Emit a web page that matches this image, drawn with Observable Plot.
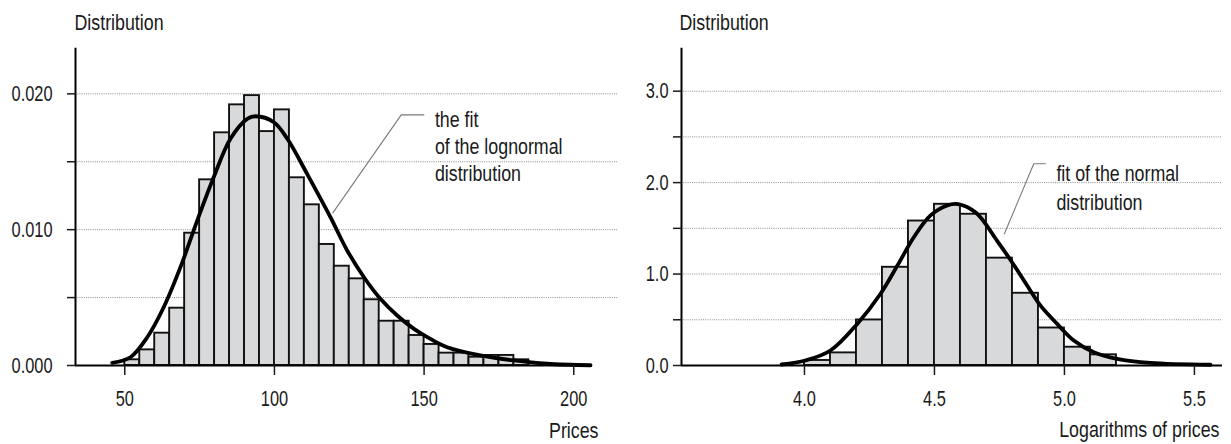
<!DOCTYPE html>
<html>
<head>
<meta charset="utf-8">
<script src="https://cdn.jsdelivr.net/npm/d3@7"></script>
<script src="https://cdn.jsdelivr.net/npm/@observablehq/plot@0.6"></script>
<style>
  html, body { margin: 0; padding: 0; background: #fff; }
  #charts { display: flex; width: 1231px; height: 444px; }
</style>
</head>
<body>
<div id="charts"></div>
<script>
// Histogram of prices: left edge of each 5-unit bin and its density
const priceBinStart = [50, 55, 60, 65, 70, 75, 80, 85, 90, 95, 100, 105, 110, 115, 120,
                       125, 130, 135, 140, 145, 150, 155, 160, 165, 170, 175, 180];
const priceDensity = [0.00042, 0.00115, 0.00238, 0.00422, 0.00974, 0.01367, 0.01713, 0.01919,
                      0.01987, 0.01722, 0.01882, 0.01382, 0.01183, 0.00891, 0.00731, 0.00638,
                      0.00484, 0.00326, 0.00326, 0.00221, 0.00155, 0.00091, 0.00091, 0.00061,
                      0.00074, 0.00074, 0.00042];
const priceBinWidth = 5;

// Lognormal fit curve sampled along the price axis
const lognormalX = [45.8, 51.9, 57.5, 63.0, 68.6, 74.2, 79.7, 85.3, 90.9, 93.7, 99.8, 104.3,
                    110.9, 118.7, 124.3, 129.9, 135.4, 141.0, 146.6, 152.1, 157.7, 168.8,
                    180.0, 191.1, 205.6];
const lognormalY = [0.0002, 0.00061, 0.00208, 0.00429, 0.00724, 0.01067, 0.01386, 0.01669,
                    0.01816, 0.01835, 0.01791, 0.01669, 0.01411, 0.01092, 0.00847, 0.0065,
                    0.00491, 0.00368, 0.0027, 0.00196, 0.00135, 0.00074, 0.00037, 0.00013,
                    0.00002];

// Histogram of log prices: left edge of each 0.1 bin and its density
const logBinStart = [4.0, 4.1, 4.2, 4.3, 4.4, 4.5, 4.6, 4.7, 4.8, 4.9, 5.0, 5.1];
const logDensity = [0.055, 0.138, 0.498, 1.074, 1.58, 1.763, 1.654, 1.174, 0.79, 0.41, 0.2, 0.117];
const logBinWidth = 0.1;

// Normal fit curve sampled along the log-price axis
const normalX = [3.912, 4.004, 4.1, 4.203, 4.292, 4.357, 4.42, 4.485, 4.549, 4.59, 4.66, 4.741,
                 4.799, 4.857, 4.908, 4.972, 5.036, 5.113, 5.203, 5.331, 5.562];
const normalY = [0.011, 0.055, 0.164, 0.455, 0.782, 1.09, 1.4, 1.641, 1.75, 1.765, 1.67, 1.363,
                 1.127, 0.872, 0.654, 0.455, 0.273, 0.145, 0.073, 0.029, 0.008];

// Axis ticks and labels
const priceTicks = [50, 100, 150, 200];
const priceDensityTicks = [0, 0.005, 0.01, 0.015, 0.02];
const priceDensityLabels = ["0.000", "", "0.010", "", "0.020"];
const logTicks = [4.0, 4.5, 5.0, 5.5];
const logDensityTicks = [0, 0.5, 1, 1.5, 2, 2.5, 3];
const logDensityLabels = ["0.0", "", "1.0", "", "2.0", "", "3.0"];

const FONT = '"Liberation Sans", Arial, sans-serif';
const FS = 22;
const INK = "#1a1a1a";
const BAR_FILL = "#d8d9db";
const GRID = "#8c8c8c";

function histogramPanel(cfg) {
  const bins = cfg.starts.map((s, i) => ({x1: s, x2: +(s + cfg.binWidth).toFixed(4), y: cfg.values[i]}));
  const curve = cfg.curveX.map((x, i) => ({x, y: cfg.curveY[i]}));
  const labelOf = new Map(cfg.yTicks.map((t, i) => [t, cfg.yLabels[i]]));
  const grid = cfg.yTicks.filter(t => t > 0);

  return Plot.plot({
    width: cfg.width,
    height: 444,
    marginLeft: cfg.marginLeft,
    marginRight: cfg.marginRight,
    marginTop: 47.7,
    marginBottom: 79,
    style: {fontFamily: FONT, fontSize: FS + "px", color: INK, background: "transparent", overflow: "visible"},
    x: {domain: cfg.xDomain},
    y: {domain: cfg.yDomain},
    marks: [
      // dotted horizontal gridlines
      Plot.ruleY(grid, {x1: cfg.xDomain[0], x2: cfg.gridEnd, stroke: GRID, strokeWidth: 1, strokeDasharray: "1,1.2"}),
      // histogram bars
      Plot.rectY(bins, {x1: "x1", x2: "x2", y: "y", fill: BAR_FILL, stroke: "#111", strokeWidth: 1.9}),
      // fitted density curve
      Plot.line(curve, {x: "x", y: "y", curve: "catmull-rom", stroke: "#000", strokeWidth: 3.8, strokeLinecap: "round"}),
      // axis lines
      Plot.ruleY([0], {x1: cfg.xDomain[0], x2: cfg.xDomain[1], stroke: "#000", strokeWidth: 2}),
      Plot.ruleX([cfg.xDomain[0]], {y1: 0, y2: cfg.yDomain[1], stroke: "#000", strokeWidth: 2}),
      Plot.axisX({ticks: cfg.xTicks, tickSize: 10, tickPadding: 15, tickFormat: d => d3.format(cfg.xFormat)(d),
                  label: null, strokeWidth: 1.5, fill: INK}),
      Plot.axisY({ticks: cfg.yTicks, tickSize: 8, tickPadding: cfg.yPad, tickFormat: d => labelOf.get(d),
                  label: null, strokeWidth: 1.5, fill: INK}),
      // leader line and annotation
      Plot.line(cfg.leader, {stroke: "#7a7a7a", strokeWidth: 1.1}),
      Plot.text([cfg.note], {x: cfg.noteX, y: cfg.noteY, text: d => d, textAnchor: "start", lineAnchor: "top",
                             lineHeight: cfg.noteLineHeight, fontSize: FS, fill: INK}),
      // axis titles
      Plot.text(["Distribution"], {frameAnchor: "top-left", textAnchor: "start", lineAnchor: "top",
                                   dx: cfg.titleDx, dy: -34, fontSize: FS, fill: INK}),
      Plot.text([cfg.xTitle], {frameAnchor: "bottom-right", textAnchor: "end", lineAnchor: "top",
                               dx: cfg.xTitleDx, dy: cfg.xTitleDy, fontSize: FS, fill: INK})
    ]
  });
}

const left = histogramPanel({
  width: 620, marginLeft: 75, marginRight: 28,
  xDomain: [33.53, 206.26], yDomain: [0, 0.02336], gridEnd: 214.9,
  starts: priceBinStart, values: priceDensity, binWidth: priceBinWidth,
  curveX: lognormalX, curveY: lognormalY,
  xTicks: priceTicks, xFormat: "d",
  yTicks: priceDensityTicks, yLabels: priceDensityLabels, yPad: 15,
  leader: [[119.5, 0.01124], [142.35, 0.01845], [149.9, 0.01845]],
  note: "the fit\nof the lognormal\ndistribution", noteX: 153.6, noteY: 0.018984, noteLineHeight: 27 / FS,
  titleDx: -1, xTitle: "Prices", xTitleDx: 6, xTitleDy: 57
});

const right = histogramPanel({
  width: 611, marginLeft: 61, marginRight: 9,
  xDomain: [3.527, 5.608], yDomain: [0, 3.47], gridEnd: 5.608,
  starts: logBinStart, values: logDensity, binWidth: logBinWidth,
  curveX: normalX, curveY: normalY,
  xTicks: logTicks, xFormat: ".1f",
  yTicks: logDensityTicks, yLabels: logDensityLabels, yPad: 5,
  leader: [[4.769, 1.44], [4.882, 2.206], [4.927, 2.206]],
  note: "fit of the normal\ndistribution", noteX: 4.969, noteY: 2.2345, noteLineHeight: 28.3 / FS,
  titleDx: -2, xTitle: "Logarithms of prices", xTitleDx: -3, xTitleDy: 55.5
});

document.getElementById("charts").append(left, right);

// Narrow the typeface: wrap each text in a group that scales it horizontally
// about its own anchor edge (numbers a little tighter than words).
for (const svg of [left, right]) {
  svg.querySelectorAll("text").forEach(t => {
    if (!t.textContent.trim()) return;
    const numeric = /^[\d.]+$/.test(t.textContent.trim());
    const k = numeric ? 0.745 : 0.81;
    const r = t.getBoundingClientRect();
    const anchor = getComputedStyle(t).textAnchor;
    const sx = anchor === "end" ? r.right : anchor === "middle" ? r.left + r.width / 2 : r.left;
    const parent = t.parentNode;
    const p = new DOMPoint(sx, r.top).matrixTransform(parent.getScreenCTM().inverse());
    const g = document.createElementNS("http://www.w3.org/2000/svg", "g");
    g.setAttribute("transform", `translate(${p.x},0) scale(${k},1) translate(${-p.x},0)`);
    parent.insertBefore(g, t);
    g.appendChild(t);
  });
}
</script>
</body>
</html>
